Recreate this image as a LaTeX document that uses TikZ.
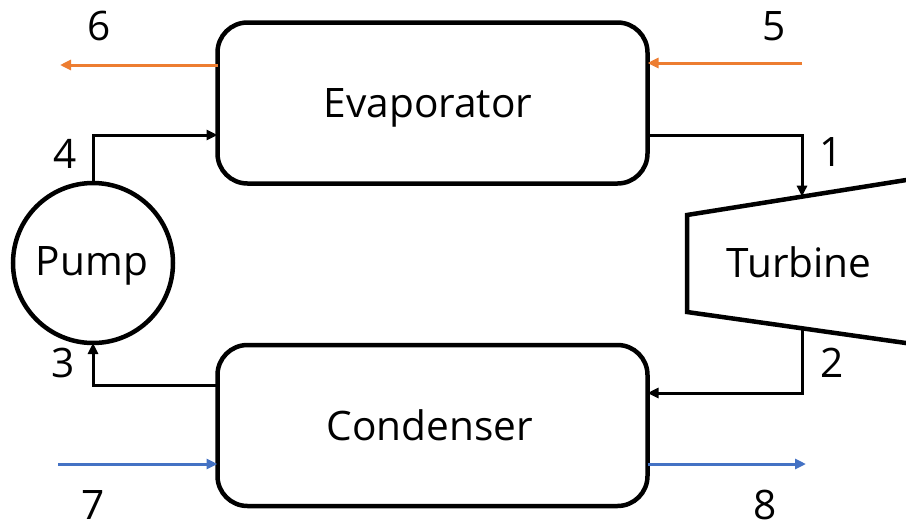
\documentclass[tikz,border=0pt]{standalone}
\usepackage{fontspec}
\setmainfont{Open Sans}
\usetikzlibrary{arrows.meta,calc}
\definecolor{orng}{RGB}{237,125,49}
\definecolor{blu}{RGB}{68,114,196}
\begin{document}
\begin{tikzpicture}[x=1pt,y=-1pt,
  txt/.style={font=\fontsize{40.6}{48}\selectfont, inner sep=0pt, anchor=base},
  box/.style={draw, line width=4.5pt, rounded corners=30pt, minimum width=430pt, minimum height=161pt, outer sep=0pt},
  flow/.style={line width=3pt, -{Triangle[length=11pt,width=10pt]}},
  hot/.style={flow, orng},
  cold/.style={flow, blu},
  lbl/.style={txt, text depth=0pt}]
\useasboundingbox (0,0) rectangle (906,523);
\node[box] (evap) at (432.5,103) {};
\node[box] (cond) at (432.5,425.5) {};
\node[draw, line width=4.5pt, circle, minimum size=160pt, outer sep=0pt, inner sep=0pt] (pump) at (93,263) {};
\node[txt] (evapt) at (428,117) {Evaporator};
\node[txt] (condt) at (430,440) {Condenser};
\node[txt] (pumpt) at (92,275) {Pump};
% turbine
\coordinate (ttr) at (910,179.4);
\coordinate (ttl) at (687,215);
\coordinate (tbl) at (687,312);
\coordinate (tbr) at (910,343.6);
\draw[line width=4.5pt, line join=miter] (ttr) -- (ttl) -- (tbl) -- (tbr);
\node[txt] (turb) at (799,277) {Turbine};
\coordinate (tin) at ($(ttl)!0.5157!(ttr)$);
\coordinate (tout) at ($(tbl)!0.5157!(tbr)$);
% working fluid
\draw[flow] (pump.north) |- (evap.west |- 0,135);
\draw[flow] (evap.east |- 0,135) -| (tin);
\draw[flow] (tout) |- (cond.east |- 0,393);
\draw[flow] (cond.west |- 0,385) -| (pump.south);
% hot and cold streams
\coordinate (s6) at (60,65);
\coordinate (s5) at (802,63);
\coordinate (s7) at (58,464);
\coordinate (s8) at (806,464);
\draw[hot] (evap.west |- s6) -- (s6);
\draw[hot] (s5) -- (evap.east |- s5);
\draw[cold] (s7) -- (cond.west |- s7);
\draw[cold] (cond.east |- s8) -- (s8);
% labels
\node[lbl] (l6) at (99,40) {6};
\node[lbl] (l5) at (774,40) {5};
\node[lbl] (l4) at (65,168) {4};
\node[lbl] (l1) at (831,166) {1};
\node[lbl] (l3) at (63,377) {3};
\node[lbl] (l2) at (832,377) {2};
\node[lbl] (l7) at (93,519) {7};
\node[lbl] (l8) at (765,519) {8};
\end{tikzpicture}
\end{document}
